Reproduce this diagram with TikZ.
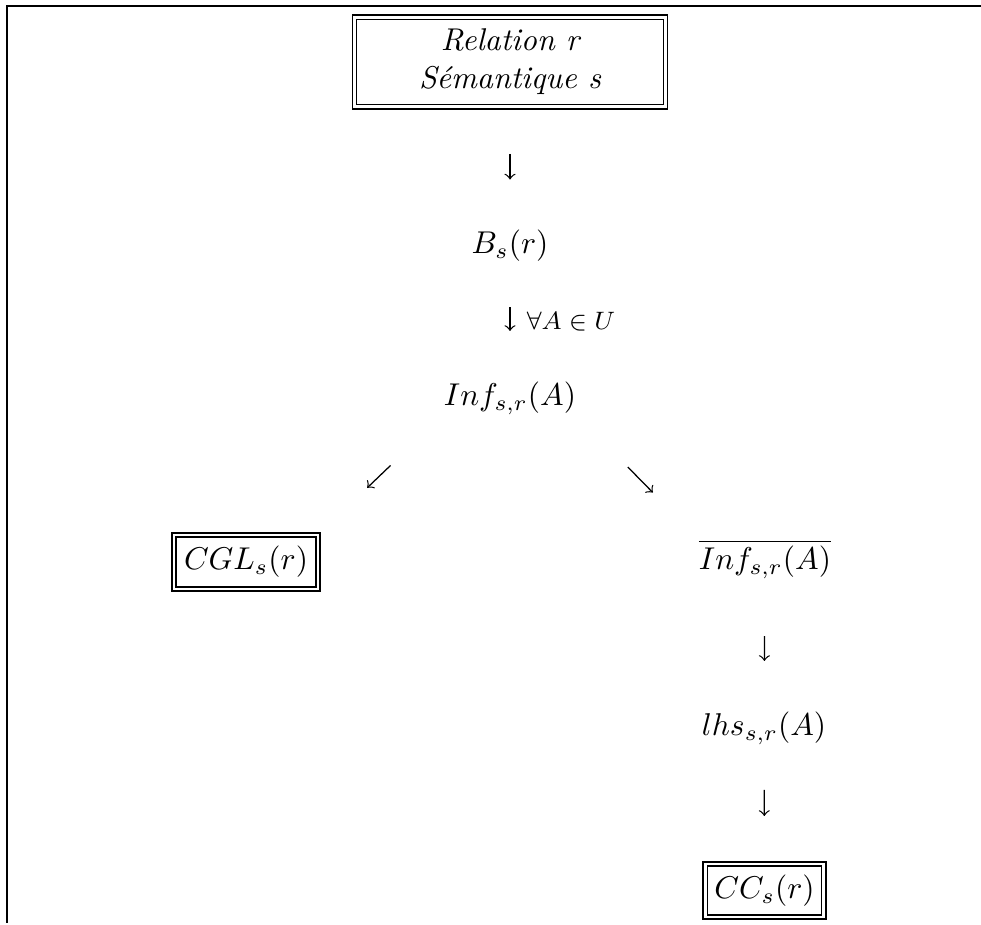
\documentclass[tikz,border=0pt]{standalone}
\usepackage{fontspec}
\begin{document}
% one unit = one pixel of a 981 x 925 canvas, y growing downwards
\begin{tikzpicture}[x=0.3175pt, y=-0.3175pt,
  frame/.style={line width=0.6pt},
  dbox/.style={draw, line width=0.6pt, inner sep=0pt,
    path picture={\draw[line width=0.4pt]
      ([shift={(1.3pt,-1.3pt)}]path picture bounding box.north west) rectangle
      ([shift={(-1.3pt,1.3pt)}]path picture bounding box.south east);}},
  term/.style={inner sep=0pt},
  arr/.style={->, line width=0.4pt}]
\useasboundingbox (0,0) rectangle (981,925);

% open frame: top and left edges
\draw[frame] (7,923) -- (7,6) -- (981,6);

% nodes
\node[dbox, minimum width=100pt, minimum height=29.8pt, align=center,
      font=\itshape] (title) at (510,62) {Relation r\\Sémantique s};
\node[term] (bs)   at (510,246) {$B_s(r)$};
\node[term, font=\footnotesize] (forall) at (571,322) {$\forall A\in U$};
\node[term] (inf)  at (510,398) {$Inf_{s,r}(A)$};
\node[dbox, minimum width=47pt, minimum height=18.4pt] (cgl) at (246,562) {$CGL_s(r)$};
\node[term] (ninf) at (765,559) {$\overline{Inf_{s,r}(A)}$};
\node[term] (lhs)  at (764,728) {$lhs_{s,r}(A)$};
\node[dbox, minimum width=39pt, minimum height=18.1pt] (cc) at (764.5,890.5) {$CC_s(r)$};

% connectors
\draw[arr, shorten <=14pt,   shorten >=15.9pt] (title.south) -- (bs.north);
\draw[arr, shorten <=14.3pt, shorten >=15.9pt] (bs.south) -- (inf.north);
\draw[arr, shorten <=23.2pt, shorten >=20.3pt] (inf.south west) -- (cgl.north east);
\draw[arr, shorten <=23.2pt, shorten >=20.6pt] (inf.south east) -- (ninf.north west);
\draw[arr, shorten <=18.1pt, shorten >=15.9pt] (ninf.south) -- (lhs.north);
\draw[arr, shorten <=14.3pt, shorten >=14.3pt] (lhs.south) -- (cc.north);
\end{tikzpicture}
\end{document}
